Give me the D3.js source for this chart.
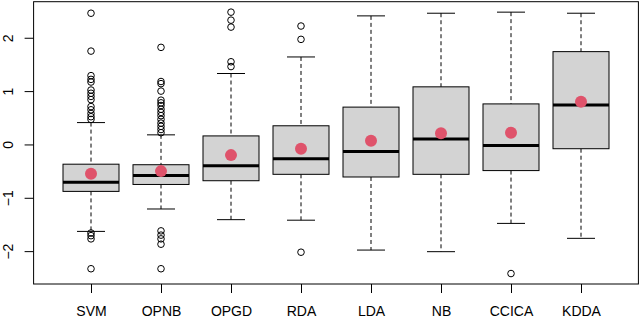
<!DOCTYPE html>
<html>
<head>
<meta charset="utf-8">
<script src="https://cdn.jsdelivr.net/npm/d3@7"></script>
<style>
  body { margin: 0; background: #fff; }
  svg { display: block; font-family: "Liberation Sans", Arial, sans-serif; }
</style>
</head>
<body>
<svg></svg>
<script>
// methods on the x axis
let methods = ["SVM", "OPNB", "OPGD", "RDA", "LDA", "NB", "CCICA", "KDDA"];

// box statistics
let lowerWhisker = [-1.63, -1.21, -1.41, -1.42, -1.98, -2.01, -1.48, -1.76];
let q1 = [-0.88, -0.75, -0.68, -0.56, -0.61, -0.56, -0.49, -0.08];
let medians = [-0.71, -0.58, -0.40, -0.27, -0.13, 0.10, -0.02, 0.74];
let q3 = [-0.37, -0.38, 0.16, 0.35, 0.70, 1.08, 0.76, 1.74];
let upperWhisker = [0.41, 0.18, 1.33, 1.64, 2.41, 2.46, 2.48, 2.46];
let means = [-0.55, -0.50, -0.20, -0.08, 0.07, 0.21, 0.22, 0.80];

// outliers per method
let outliers = [
  [2.46, 1.75, 1.29, 1.22, 1.17, 1.02, 0.96, 0.90, 0.84, 0.71, 0.65, 0.58, 0.52, 0.47,
   -1.66, -1.71, -1.77, -2.33],
  [1.82, 1.18, 1.14, 1.00, 0.83, 0.78, 0.73, 0.66, 0.60, 0.54, 0.47, 0.40, 0.34, 0.28, 0.22,
   -1.62, -1.70, -1.77, -1.87, -2.33],
  [2.48, 2.33, 2.20, 1.55, 1.46],
  [2.22, 1.97, -2.02],
  [],
  [],
  [-2.42],
  []
];

let yTicks = [-2, -1, 0, 1, 2];

let width = 640;
let height = 318;
let plotLeft = 33.6, plotRight = 638.4, plotTop = 1.7, plotBottom = 284;

let svg = d3.select("svg")
  .attr("width", width)
  .attr("height", height);

// R style scales: groups at 1..n, 4% padding
let n = methods.length;
let xScale = d3.scaleLinear()
  .domain([0.5 - 0.32, n + 0.5 + 0.32])
  .range([plotLeft, plotRight]);

let allVals = [].concat(lowerWhisker, upperWhisker, ...outliers);
let yMin = d3.min(allVals), yMax = d3.max(allVals);
let pad = (yMax - yMin) * 0.04;
let yScale = d3.scaleLinear()
  .domain([yMin - pad, yMax + pad])
  .range([plotBottom, plotTop]);

let boxW = 0.8 * (xScale(2) - xScale(1));
let capW = boxW / 2;

let groups = svg.append("g")
  .selectAll("g")
  .data(methods)
  .enter()
  .append("g")
  .attr("transform", (d, i) => "translate(" + xScale(i + 1) + ",0)");

// dashed whiskers
groups.append("line")
  .attr("y1", (d, i) => yScale(upperWhisker[i]))
  .attr("y2", (d, i) => yScale(q3[i]))
  .attr("stroke", "#000").attr("stroke-dasharray", "4,3");
groups.append("line")
  .attr("y1", (d, i) => yScale(q1[i]))
  .attr("y2", (d, i) => yScale(lowerWhisker[i]))
  .attr("stroke", "#000").attr("stroke-dasharray", "4,3");

// staples
groups.append("line")
  .attr("x1", -capW / 2).attr("x2", capW / 2)
  .attr("y1", (d, i) => yScale(upperWhisker[i]))
  .attr("y2", (d, i) => yScale(upperWhisker[i]))
  .attr("stroke", "#000");
groups.append("line")
  .attr("x1", -capW / 2).attr("x2", capW / 2)
  .attr("y1", (d, i) => yScale(lowerWhisker[i]))
  .attr("y2", (d, i) => yScale(lowerWhisker[i]))
  .attr("stroke", "#000");

// boxes
groups.append("rect")
  .attr("x", -boxW / 2)
  .attr("width", boxW)
  .attr("y", (d, i) => yScale(q3[i]))
  .attr("height", (d, i) => yScale(q1[i]) - yScale(q3[i]))
  .attr("fill", "#d3d3d3")
  .attr("stroke", "#000");

// medians
groups.append("line")
  .attr("x1", -boxW / 2).attr("x2", boxW / 2)
  .attr("y1", (d, i) => yScale(medians[i]))
  .attr("y2", (d, i) => yScale(medians[i]))
  .attr("stroke", "#000").attr("stroke-width", 3);

// outlier circles
groups.selectAll("circle.out")
  .data((d, i) => outliers[i])
  .enter()
  .append("circle")
  .attr("class", "out")
  .attr("cy", v => yScale(v))
  .attr("r", 3.3)
  .attr("fill", "none")
  .attr("stroke", "#000");

// mean points
groups.append("circle")
  .attr("cy", (d, i) => yScale(means[i]))
  .attr("r", 6)
  .attr("fill", "#DF536B");

// axes
let xAxis = d3.axisBottom(xScale)
  .tickValues(d3.range(1, n + 1))
  .tickFormat(i => methods[i - 1])
  .tickSize(9);
let gx = svg.append("g")
  .attr("transform", "translate(0," + plotBottom + ")")
  .call(xAxis);
gx.select(".domain").remove();
gx.selectAll("text")
  .attr("y", 32).attr("dy", 0)
  .style("font-size", "14px")
  .attr("fill", "#000");

let yAxis = d3.axisLeft(yScale)
  .tickValues(yTicks)
  .tickFormat(d => d < 0 ? "\u2212" + Math.abs(d) : d)
  .tickSize(9);
let gy = svg.append("g")
  .attr("transform", "translate(" + plotLeft + ",0)")
  .call(yAxis);
gy.select(".domain").remove();
gy.selectAll("text")
  .attr("x", 0).attr("y", -20.5).attr("dy", 0)
  .attr("text-anchor", "middle")
  .attr("transform", "rotate(-90)")
  .style("font-size", "14px")
  .attr("fill", "#000");

// frame
svg.append("rect")
  .attr("x", plotLeft).attr("y", plotTop)
  .attr("width", plotRight - plotLeft).attr("height", plotBottom - plotTop)
  .attr("fill", "none")
  .attr("stroke", "#000");
</script>
</body>
</html>
